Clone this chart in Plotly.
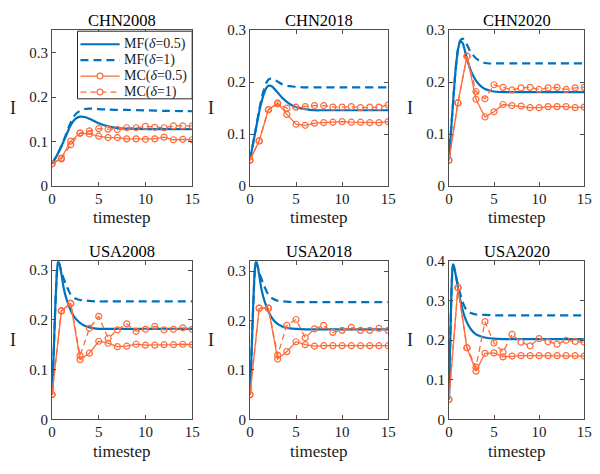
import plotly.graph_objects as go

# ---------------- data ----------------
TIMESTEP = list(range(16))
PANELS = ["CHN2008", "CHN2018", "CHN2020", "USA2008", "USA2018", "USA2020"]
SERIES_NAMES = ["MF(<i>δ</i>=0.5)", "MF(<i>δ</i>=1)", "MC(<i>δ</i>=0.5)", "MC(<i>δ</i>=1)"]

CHN2008_MF_T = [0, 0.5, 1, 1.5, 2, 2.5, 3, 3.5, 4, 4.5, 5, 6, 7, 8, 10, 12, 15]
CHN2008_MF05 = [0.050, 0.068, 0.089, 0.113, 0.137, 0.151, 0.156, 0.155, 0.151, 0.146, 0.141, 0.134, 0.130, 0.129, 0.128, 0.128, 0.128]
CHN2008_MF1 = [0.050, 0.068, 0.090, 0.116, 0.143, 0.161, 0.169, 0.173, 0.174, 0.174, 0.173, 0.172, 0.171, 0.171, 0.170, 0.169, 0.168]
CHN2008_MC05 = [0.050, 0.063, 0.101, 0.119, 0.117, 0.112, 0.109, 0.109, 0.106, 0.106, 0.105, 0.106, 0.110, 0.104, 0.105, 0.104]
CHN2008_MC1 = [0.050, 0.061, 0.093, 0.119, 0.124, 0.129, 0.128, 0.127, 0.131, 0.131, 0.134, 0.132, 0.131, 0.135, 0.135, 0.135]

CHN2018_MF_T = [0, 0.25, 0.5, 0.75, 1, 1.25, 1.5, 1.75, 2, 2.25, 2.5, 3, 3.5, 4, 4.5, 5, 6, 7, 8, 10, 15]
CHN2018_MF05 = [0.050, 0.074, 0.097, 0.120, 0.143, 0.162, 0.177, 0.188, 0.193, 0.193, 0.190, 0.180, 0.170, 0.162, 0.156, 0.152, 0.148, 0.146, 0.146, 0.146, 0.146]
CHN2018_MF1 = [0.050, 0.074, 0.098, 0.122, 0.147, 0.168, 0.185, 0.198, 0.205, 0.207, 0.206, 0.201, 0.196, 0.193, 0.192, 0.191, 0.190, 0.190, 0.190, 0.190, 0.190]
CHN2018_MC05 = [0.050, 0.087, 0.147, 0.160, 0.138, 0.119, 0.117, 0.121, 0.122, 0.123, 0.124, 0.123, 0.123, 0.122, 0.122, 0.124]
CHN2018_MC1 = [0.050, 0.087, 0.147, 0.158, 0.150, 0.152, 0.153, 0.155, 0.155, 0.152, 0.152, 0.153, 0.151, 0.152, 0.152, 0.156]

CHN2020_MF_T = [0, 0.25, 0.5, 0.75, 1, 1.25, 1.5, 1.75, 2, 2.25, 2.5, 3, 3.5, 4, 4.5, 5, 6, 7, 8, 10, 15]
CHN2020_MF05 = [0.050, 0.110, 0.170, 0.225, 0.262, 0.278, 0.276, 0.262, 0.245, 0.231, 0.219, 0.203, 0.193, 0.187, 0.184, 0.182, 0.181, 0.181, 0.181, 0.181, 0.181]
CHN2020_MF1 = [0.050, 0.110, 0.170, 0.226, 0.263, 0.280, 0.284, 0.280, 0.272, 0.263, 0.256, 0.246, 0.240, 0.237, 0.236, 0.236, 0.236, 0.236, 0.236, 0.236, 0.236]
CHN2020_MC05 = [0.050, 0.160, 0.250, 0.167, 0.133, 0.143, 0.157, 0.155, 0.154, 0.151, 0.151, 0.153, 0.153, 0.153, 0.151, 0.152]
CHN2020_MC1 = [0.050, 0.160, 0.250, 0.182, 0.168, 0.195, 0.190, 0.185, 0.189, 0.190, 0.186, 0.189, 0.190, 0.186, 0.189, 0.190]

USA2008_MF_T = [0, 0.15, 0.3, 0.45, 0.55, 0.65, 0.75, 0.9, 1, 1.25, 1.5, 1.75, 2, 2.5, 3, 3.5, 4, 5, 6, 8, 15]
USA2008_MF05 = [0.050, 0.120, 0.200, 0.270, 0.303, 0.317, 0.315, 0.303, 0.293, 0.264, 0.245, 0.231, 0.219, 0.203, 0.194, 0.188, 0.185, 0.182, 0.182, 0.182, 0.182]
USA2008_MF1 = [0.050, 0.120, 0.200, 0.268, 0.300, 0.312, 0.312, 0.304, 0.297, 0.283, 0.271, 0.260, 0.251, 0.243, 0.240, 0.239, 0.238, 0.237, 0.237, 0.237, 0.237]
USA2008_MC05 = [0.050, 0.218, 0.233, 0.120, 0.133, 0.157, 0.153, 0.146, 0.147, 0.151, 0.149, 0.149, 0.150, 0.150, 0.151, 0.150]
USA2008_MC1 = [0.050, 0.218, 0.233, 0.128, 0.183, 0.207, 0.163, 0.180, 0.192, 0.177, 0.181, 0.187, 0.180, 0.181, 0.184, 0.181]

USA2018_MF_T = [0, 0.15, 0.3, 0.45, 0.55, 0.65, 0.75, 0.9, 1, 1.25, 1.5, 1.75, 2, 2.5, 3, 3.5, 4, 5, 6, 8, 15]
USA2018_MF05 = [0.050, 0.122, 0.205, 0.277, 0.308, 0.320, 0.316, 0.303, 0.292, 0.263, 0.244, 0.230, 0.218, 0.202, 0.193, 0.188, 0.185, 0.183, 0.182, 0.182, 0.182]
USA2018_MF1 = [0.050, 0.122, 0.205, 0.275, 0.305, 0.315, 0.314, 0.305, 0.298, 0.284, 0.272, 0.261, 0.252, 0.244, 0.240, 0.239, 0.238, 0.237, 0.237, 0.237, 0.237]
USA2018_MC05 = [0.050, 0.225, 0.225, 0.122, 0.137, 0.157, 0.151, 0.148, 0.149, 0.149, 0.149, 0.149, 0.149, 0.149, 0.149, 0.149]
USA2018_MC1 = [0.050, 0.225, 0.225, 0.130, 0.190, 0.202, 0.165, 0.183, 0.190, 0.176, 0.180, 0.186, 0.180, 0.180, 0.184, 0.180]

USA2020_MF_T = [0, 0.1, 0.2, 0.3, 0.4, 0.45, 0.55, 0.7, 0.85, 1, 1.25, 1.5, 1.75, 2, 2.5, 3, 3.5, 4, 5, 6, 15]
USA2020_MF05 = [0.050, 0.150, 0.250, 0.335, 0.385, 0.392, 0.388, 0.372, 0.353, 0.333, 0.303, 0.278, 0.259, 0.245, 0.226, 0.215, 0.210, 0.207, 0.204, 0.203, 0.203]
USA2020_MF1 = [0.050, 0.150, 0.250, 0.333, 0.380, 0.385, 0.383, 0.370, 0.355, 0.340, 0.318, 0.298, 0.284, 0.275, 0.268, 0.265, 0.264, 0.264, 0.263, 0.263, 0.263]
USA2020_MC05 = [0.050, 0.333, 0.181, 0.122, 0.167, 0.168, 0.158, 0.160, 0.161, 0.161, 0.161, 0.161, 0.161, 0.161, 0.161, 0.160]
USA2020_MC1 = [0.050, 0.333, 0.181, 0.132, 0.247, 0.193, 0.170, 0.215, 0.195, 0.186, 0.204, 0.196, 0.190, 0.200, 0.197, 0.195]

Y_MAX = [0.35, 0.3, 0.3, 0.318, 0.32, 0.4]

# ---------------- layout / styling ----------------
W, H = 600, 474
BLUE = "#0072BD"
ORANGE = "#FF6A3A"
AX = "#4d4d4d"
TXT = "#1a1a1a"
FONT = "Liberation Serif, Times New Roman, serif"

X_DOMAINS_PX = [(49, 192), (251, 392), (454, 592)]
Y_DOMAINS_PX = [(23, 184.3), (262, 425.7)]

MF_LINE = dict(color=BLUE, width=2.2)
MF_DASH = "8px,5px"
MC_LINE = dict(color=ORANGE, width=1.3)
MC_DASH = "6px,4px"
MC_MARKER = dict(symbol="circle-open", size=6, color=ORANGE, line=dict(width=1.2))

panel_data = [
    (CHN2008_MF_T, CHN2008_MF05, CHN2008_MF1, CHN2008_MC05, CHN2008_MC1),
    (CHN2018_MF_T, CHN2018_MF05, CHN2018_MF1, CHN2018_MC05, CHN2018_MC1),
    (CHN2020_MF_T, CHN2020_MF05, CHN2020_MF1, CHN2020_MC05, CHN2020_MC1),
    (USA2008_MF_T, USA2008_MF05, USA2008_MF1, USA2008_MC05, USA2008_MC1),
    (USA2018_MF_T, USA2018_MF05, USA2018_MF1, USA2018_MC05, USA2018_MC1),
    (USA2020_MF_T, USA2020_MF05, USA2020_MF1, USA2020_MC05, USA2020_MC1),
]

fig = go.Figure()
annotations = []
shapes = []
layout = {}

for i, (name, (mft, mf05, mf1, mc05, mc1)) in enumerate(zip(PANELS, panel_data)):
    r, c = divmod(i, 3)
    idx = "" if i == 0 else str(i + 1)
    xa, ya = "x" + idx, "y" + idx
    fig.add_trace(go.Scatter(x=mft, y=mf05, xaxis=xa, yaxis=ya, mode="lines",
                             line=dict(**MF_LINE, shape="spline", smoothing=0.8),
                             name=SERIES_NAMES[0], showlegend=False))
    fig.add_trace(go.Scatter(x=mft, y=mf1, xaxis=xa, yaxis=ya, mode="lines",
                             line=dict(**MF_LINE, dash=MF_DASH, shape="spline", smoothing=0.8),
                             name=SERIES_NAMES[1], showlegend=False))
    fig.add_trace(go.Scatter(x=TIMESTEP, y=mc05, xaxis=xa, yaxis=ya, mode="lines+markers",
                             line=MC_LINE, marker=MC_MARKER,
                             name=SERIES_NAMES[2], showlegend=False))
    fig.add_trace(go.Scatter(x=TIMESTEP, y=mc1, xaxis=xa, yaxis=ya, mode="lines+markers",
                             line=dict(**MC_LINE, dash=MC_DASH), marker=MC_MARKER,
                             name=SERIES_NAMES[3], showlegend=False))

    x0, x1 = X_DOMAINS_PX[c]
    ytop, ybot = Y_DOMAINS_PX[r]
    common = dict(showgrid=False, zeroline=False, showline=True, linecolor=AX, linewidth=1,
                  mirror="ticks", ticks="inside", ticklen=4, tickcolor=AX, tickwidth=1,
                  tickfont=dict(family=FONT, size=15, color=TXT))
    layout["xaxis" + idx] = dict(domain=[x0 / W, x1 / W], anchor=ya, range=[0, 15],
                                 tickvals=[0, 5, 10, 15], ticklabelstandoff=-1, **common)
    layout["yaxis" + idx] = dict(domain=[1 - ybot / H, 1 - ytop / H], anchor=xa,
                                 range=[0, Y_MAX[i]], dtick=0.1, tick0=0, **common)

    cx = (x0 + x1) / 2 / W
    annotations.append(dict(text=name, x=cx, y=1 - (ytop - 10.5) / H, xref="paper", yref="paper",
                            showarrow=False, xanchor="center", yanchor="middle",
                            font=dict(family=FONT, size=16.5, color="#000000")))
    annotations.append(dict(text="timestep", x=cx, y=1 - (ybot + 33) / H, xref="paper", yref="paper",
                            showarrow=False, xanchor="center", yanchor="middle",
                            font=dict(family=FONT, size=17, color=TXT)))
    annotations.append(dict(text="I", x=(x0 - 40) / W, y=1 - (ytop + ybot) / 2 / H, xref="paper", yref="paper",
                            showarrow=False, xanchor="center", yanchor="middle",
                            font=dict(family=FONT, size=18, color=TXT)))

# ---------------- legend box (drawn in the first panel, paper coordinates) ----------------
LEG_BOX = (75, 24, 192, 94)
LEG_ROWS = [37.5, 54, 70.5, 87]
LEG_X = (78, 118)
LEG_TEXT_X = 120


def px(x):
    return x / W


def py(y):
    return 1 - y / H


shapes.append(dict(type="rect", xref="paper", yref="paper", layer="above",
                   x0=px(LEG_BOX[0]), x1=px(LEG_BOX[2]), y0=py(LEG_BOX[3]), y1=py(LEG_BOX[1]),
                   line=dict(color="#262626", width=1), fillcolor="white"))
leg_styles = [
    (dict(**MF_LINE), False),
    (dict(**MF_LINE, dash=MF_DASH), False),
    (dict(**MC_LINE), True),
    (dict(**MC_LINE, dash=MC_DASH), True),
]
for (lstyle, has_marker), ry, label in zip(leg_styles, LEG_ROWS, SERIES_NAMES):
    shapes.append(dict(type="line", xref="paper", yref="paper", layer="above",
                       x0=px(LEG_X[0]), x1=px(LEG_X[1]), y0=py(ry), y1=py(ry), line=lstyle))
    if has_marker:
        mx = (LEG_X[0] + LEG_X[1]) / 2
        shapes.append(dict(type="circle", xref="paper", yref="paper", layer="above",
                           x0=px(mx - 3), x1=px(mx + 3), y0=py(ry + 3), y1=py(ry - 3),
                           line=dict(color=ORANGE, width=1.2), fillcolor="white"))
    annotations.append(dict(text=label, x=px(LEG_TEXT_X), y=py(ry), xref="paper", yref="paper",
                            showarrow=False, xanchor="left", yanchor="middle",
                            font=dict(family=FONT, size=14, color=TXT)))

fig.update_layout(
    width=W, height=H, margin=dict(l=0, r=0, t=0, b=0),
    paper_bgcolor="white", plot_bgcolor="white",
    font=dict(family=FONT),
    showlegend=False,
    annotations=annotations,
    shapes=shapes,
    **layout,
)

fig.write_html("out.html", config={"displayModeBar": False},
               post_script="document.body.style.margin='0';document.body.style.padding='0';")
